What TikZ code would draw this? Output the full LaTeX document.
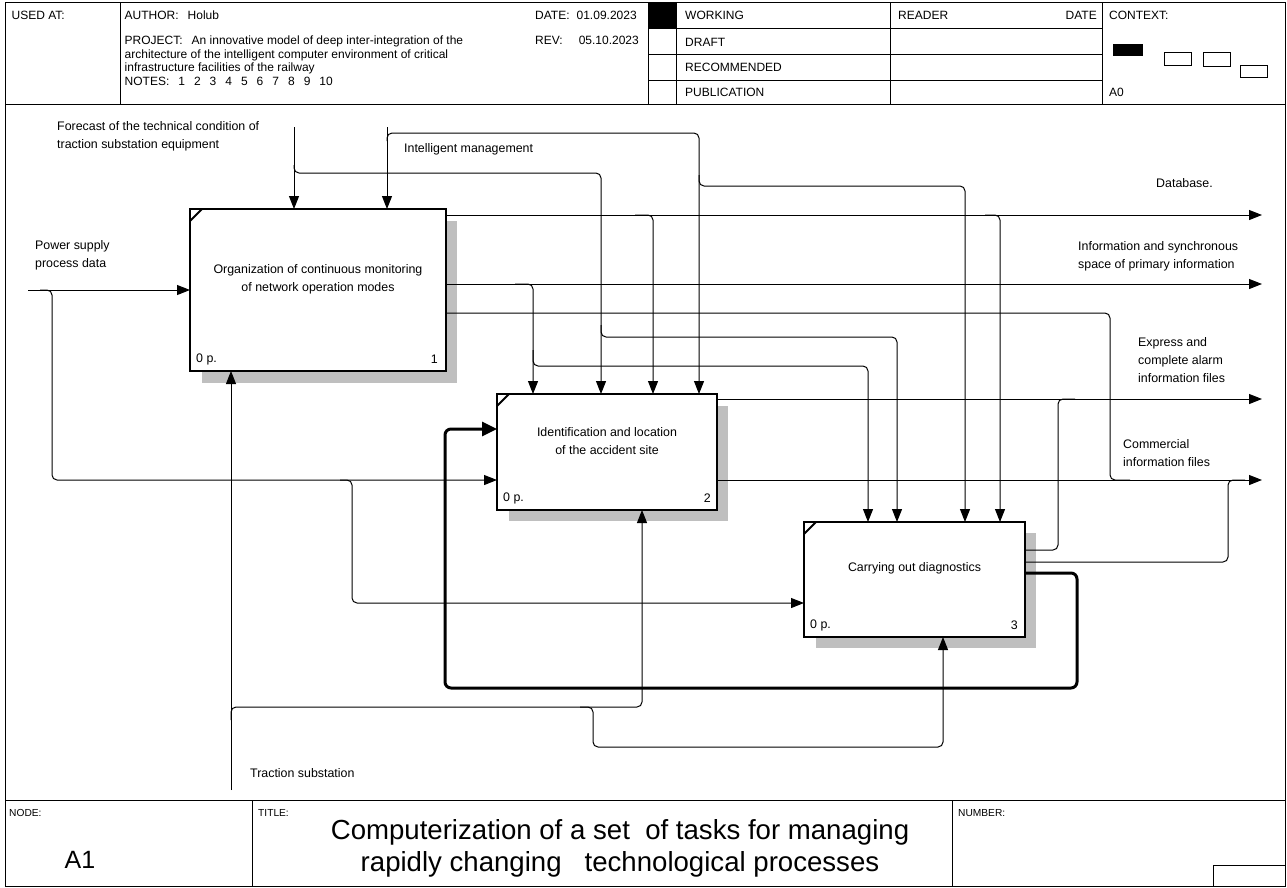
\documentclass[tikz,border=0pt]{standalone}
\usepackage{fontspec}
\setmainfont{Liberation Sans}
\usetikzlibrary{arrows.meta}
\newcommand{\gapx}{\hspace{9pt}}
\begin{document}
\begin{tikzpicture}[x=1pt,y=-1pt,
  lbl/.style={font=\fontsize{12.4}{18}\selectfont, inner sep=0pt, align=left, anchor=base west},
  hd/.style={font=\fontsize{12}{13.5}\selectfont, inner sep=0pt, align=left, anchor=base west},
  ft/.style={font=\fontsize{10.2}{12}\selectfont, inner sep=0pt, anchor=base west},
  frameline/.style={draw=black, line width=1pt},
  box/.style={draw=black, line width=2pt, fill=white, inner sep=0pt, outer sep=0pt},
  boxtxt/.style={font=\fontsize{12.4}{18}\selectfont, inner sep=0pt, align=center},
  shade/.style={fill=black!25, draw=none},
  conn/.style={line width=1pt, rounded corners=5pt},
  arr/.style={conn, -{Triangle[length=13pt,width=10pt]}},
  thickarr/.style={line width=3pt, rounded corners=6pt, -{Triangle[length=15pt,width=14pt]}},
]
\useasboundingbox (0,0) rectangle (1287,887);

% ---------- frame, header, footer ----------
\draw[frameline] (5,2) rectangle (1285,886);
\draw[frameline] (5,104) -- (1285,104);
\draw[frameline] (120,2) -- (120,104);
\draw[frameline] (648,2) -- (648,104);
\draw[frameline] (676,2) -- (676,104);
\draw[frameline] (890,2) -- (890,104);
\draw[frameline] (1102,2) -- (1102,104);
\draw[frameline] (648,28) -- (1102,28);
\draw[frameline] (648,54) -- (1102,54);
\draw[frameline] (648,80) -- (1102,80);
\fill[black] (648,2) rectangle (676,28);

\node[hd] (usedat) at (11.5,19.5) {USED AT:};
\node[hd] (author) at (124.5,19.5) {AUTHOR:\gapx Holub};
\node[hd] (project) at (124.5,85) {PROJECT:\gapx An innovative model of deep inter-integration of the\\architecture of the intelligent computer environment of critical\\infrastructure facilities of the railway\\NOTES:\gapx 1\gapx 2\gapx 3\gapx 4\gapx 5\gapx 6\gapx 7\gapx 8\gapx 9\gapx 10};
\node[hd] (date) at (535,19.5) {DATE:\hspace{7pt}01.09.2023};
\node[hd] (rev) at (535,44.5) {REV:\hspace{16pt}05.10.2023};
\node[hd] (working) at (685,19.5) {WORKING};
\node[hd] (draft) at (685,46.5) {DRAFT};
\node[hd] (recommended) at (685,71.5) {RECOMMENDED};
\node[hd] (publication) at (685,96.5) {PUBLICATION};
\node[hd] (reader) at (898,19.5) {READER};
\node[hd, anchor=base east] (rdate) at (1097,19.5) {DATE};
\node[hd] (context) at (1109,19.5) {CONTEXT:};
\node[hd] (azero) at (1109,96.5) {A0};
\fill[black] (1113,44) rectangle (1143,56);
\draw[line width=1pt] (1164,52) rectangle (1191,65);
\draw[line width=1pt] (1203,52) rectangle (1230,66);
\draw[line width=1pt] (1240,65) rectangle (1267,77);

\draw[frameline] (5,800) -- (1285,800);
\draw[frameline] (252,800) -- (252,886);
\draw[frameline] (952,800) -- (952,886);
\draw[frameline] (1213,886) -- (1213,865) -- (1285,865);
\node[ft] (nodelbl) at (9,816) {NODE:};
\node[ft] (titlelbl) at (258,816) {TITLE:};
\node[ft] (numberlbl) at (958,816) {NUMBER:};
\node[font=\fontsize{25}{30}\selectfont, inner sep=0pt] (aone) at (80,860) {A1};
\node[font=\fontsize{27.6}{32}\selectfont, inner sep=0pt, align=center] (title) at (620,848)
  {Computerization of a set\ \ of tasks for managing\\rapidly changing\ \ \ technological processes};

% ---------- shadows ----------
\fill[shade] (202,221) rectangle (457,383);
\fill[shade] (509,406) rectangle (728,521);
\fill[shade] (816,533) rectangle (1036,648);

% ---------- boxes ----------
\node[box, minimum width=256pt, minimum height=162pt] (b1) at (318,290) {};
\node[box, minimum width=220pt, minimum height=116pt] (b2) at (607,452) {};
\node[box, minimum width=221pt, minimum height=115pt] (b3) at (914.5,579.5) {};
\foreach \b in {b1,b2,b3}{
  \draw[line width=2pt] ([yshift=-12pt]\b.north west) -- ([xshift=12pt]\b.north west);
}
\node[boxtxt] (t1) at ([yshift=10.5pt]b1.center) {Organization of continuous monitoring\\of network operation modes};
\node[boxtxt] (t2) at ([yshift=11pt]b2.center) {Identification and location\\of the accident site};
\node[boxtxt] (t3) at ([yshift=11.5pt]b3.center) {Carrying out diagnostics};
\node[lbl, anchor=west] (p1) at ([xshift=6pt,yshift=12pt]b1.south west) {0 p.};
\node[lbl, anchor=east] (n1) at ([xshift=-8pt,yshift=12pt]b1.south east) {1};
\node[lbl, anchor=west] (p2) at ([xshift=6pt,yshift=12pt]b2.south west) {0 p.};
\node[lbl, anchor=east] (n2) at ([xshift=-6pt,yshift=12pt]b2.south east) {2};
\node[lbl, anchor=west] (p3) at ([xshift=6pt,yshift=12pt]b3.south west) {0 p.};
\node[lbl, anchor=east] (n3) at ([xshift=-7pt,yshift=12pt]b3.south east) {3};

% ---------- labels (anchor = baseline of last line) ----------
\node[lbl] (lforecast) at (57,148.5) {Forecast of the technical condition of\\traction substation equipment};
\node[lbl] (lintel) at (404,152.5) {Intelligent management};
\node[lbl] (lpower) at (35,267.5) {Power supply\\process data};
\node[lbl] (ldb) at (1156,187.5) {Database.};
\node[lbl] (linfo) at (1078,268.5) {Information and synchronous\\space of primary information};
\node[lbl] (lexpress) at (1138,382) {Express and\\complete alarm\\information files};
\node[lbl] (lcomm) at (1123,466) {Commercial\\information files};
\node[lbl] (ltraction) at (250,777.5) {Traction substation};

% ---------- free ends ----------
\coordinate (fc) at (294,127);
\coordinate (im) at (387,127);
\coordinate (ps) at (28,290);
\coordinate (ts) at (231,790);
\coordinate (o1) at (1262,215);
\coordinate (o2) at (1262,284);
\coordinate (o3) at (1262,399);
\coordinate (o4) at (1262,480);

% ---------- controls ----------
\draw[arr] (fc) -- ([xshift=104pt]b1.north west);
\draw[arr] (im) -- ([xshift=197pt]b1.north west);
\draw[arr] (294,165) -- (294,173) -- (601,173) -- ([xshift=104pt]b2.north west);
\draw[arr] (387,141) -- (387,133) -- (699,133) -- ([xshift=202pt]b2.north west);
\draw[arr] (699,175) -- (699,186) -- (965,186) -- ([xshift=161pt]b3.north west);
\draw[arr] (601,325) -- (601,337) -- (897,337) -- ([xshift=93pt]b3.north west);

% ---------- outputs of box 1 ----------
\draw[arr] ([yshift=-6pt]b1.north east) -- (o1);
\draw[arr] (635,215) -- (653,215) -- ([xshift=156pt]b2.north west);
\draw[arr] (985,215) -- (1000,215) -- ([xshift=196pt]b3.north west);
\draw[arr] ([yshift=-75pt]b1.north east) -- (o2);
\draw[arr] (515,284) -- (533,284) -- ([xshift=36pt]b2.north west);
\draw[arr] (533,350) -- (533,366) -- (868,366) -- ([xshift=64pt]b3.north west);
\draw[conn] ([yshift=-104pt]b1.north east) -- (1110,313) -- (1110,480) -- (1130,480);

% ---------- outputs of box 2 and 3 ----------
\draw[arr] ([yshift=-5pt]b2.north east) -- (o3);
\draw[arr] ([yshift=30pt]b2.south east) -- (o4);
\draw[conn] ([yshift=-28pt]b3.north east) -- (1058,550) -- (1058,399) -- (1075,399);
\draw[conn] ([yshift=-40pt]b3.north east) -- (1228,562) -- (1228,480) -- (1245,480);
\draw[thickarr] ([yshift=-51pt]b3.north east) -- (1077,573) -- (1077,688) -- (445,688) -- (445,429) -- ([yshift=81pt]b2.south west);

% ---------- inputs ----------
\draw[arr] (ps) -- (b1.west);
\draw[arr] (40,290) -- (52,290) -- (52,480) -- ([yshift=30pt]b2.south west);
\draw[arr] (340,480) -- (352,480) -- (352,603) -- ([yshift=34pt]b3.south west);

% ---------- mechanisms ----------
\draw[arr] (ts) -- ([xshift=41pt]b1.south west);
\draw[arr] (231,720) -- (231,707) -- (642,707) -- ([xshift=145pt]b2.south west);
\draw[arr] (580,707) -- (593,707) -- (593,747) -- (943,747) -- ([xshift=139pt]b3.south west);
\end{tikzpicture}
\end{document}
